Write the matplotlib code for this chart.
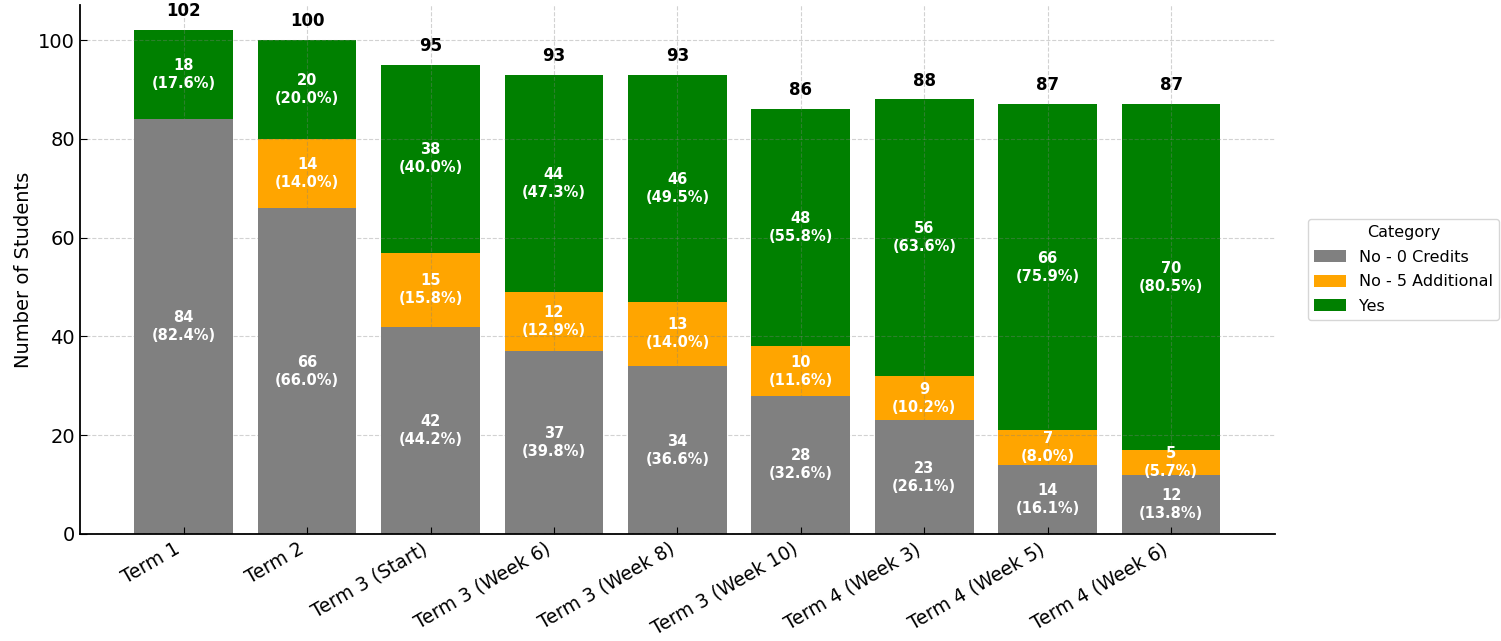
import matplotlib
matplotlib.use("Agg")
import matplotlib.pyplot as plt
import numpy as np

terms = ["Term 1", "Term 2", "Term 3 (Start)", "Term 3 (Week 6)", "Term 3 (Week 8)",
         "Term 3 (Week 10)", "Term 4 (Week 3)", "Term 4 (Week 5)", "Term 4 (Week 6)"]
no_zero = [84, 66, 42, 37, 34, 28, 23, 14, 12]
no_five = [0, 14, 15, 12, 13, 10, 9, 7, 5]
yes = [18, 20, 38, 44, 46, 48, 56, 66, 70]

series = [("No - 0 Credits", no_zero, "grey"),
          ("No - 5 Additional", no_five, "orange"),
          ("Yes", yes, "green")]

fig = plt.figure(figsize=(15.01, 6.41), dpi=100)
ax = fig.add_axes([0.0533, 0.167, 0.796, 0.825])

x = np.arange(len(terms))
totals = np.array(no_zero) + np.array(no_five) + np.array(yes)
bottom = np.zeros(len(terms))
for name, vals, color in series:
    vals = np.array(vals)
    ax.bar(x, vals, 0.8, bottom=bottom, color=color, label=name)
    for i, v in enumerate(vals):
        if v > 0:
            pct = v / totals[i] * 100
            ax.text(x[i], bottom[i] + v / 2, f"{v}\n({pct:.1f}%)", ha="center", va="center",
                    color="white", fontsize=10.5, fontweight="bold", linespacing=1.25)
    bottom += vals

for i, t in enumerate(totals):
    ax.text(x[i], t + 2.0, f"{t}", ha="center", va="bottom", fontsize=12, fontweight="bold")

ax.set_ylim(0, 107.1)
ax.set_xlim(-0.84, len(terms) - 1 + 0.84)
ax.set_xticks(x)
ax.set_xticklabels(terms, rotation=30, ha="right", fontsize=13.5)
ax.tick_params(axis="y", labelsize=14, direction="in", length=5)
ax.tick_params(axis="x", direction="in", length=5, pad=4)
ax.set_ylabel("Number of Students", fontsize=14)
ax.grid(True, linestyle="--", color="grey", alpha=0.35, linewidth=0.8)
ax.set_axisbelow(False)
for s in ["top", "right"]:
    ax.spines[s].set_visible(False)
for s in ["left", "bottom"]:
    ax.spines[s].set_linewidth(1.3)

ax.legend(title="Category", loc="center left", bbox_to_anchor=(1.021, 0.5), fontsize=11.5,
          title_fontsize=11.5, frameon=True, handleheight=0.8, labelspacing=0.6)

fig.savefig("out.png", dpi=100)
